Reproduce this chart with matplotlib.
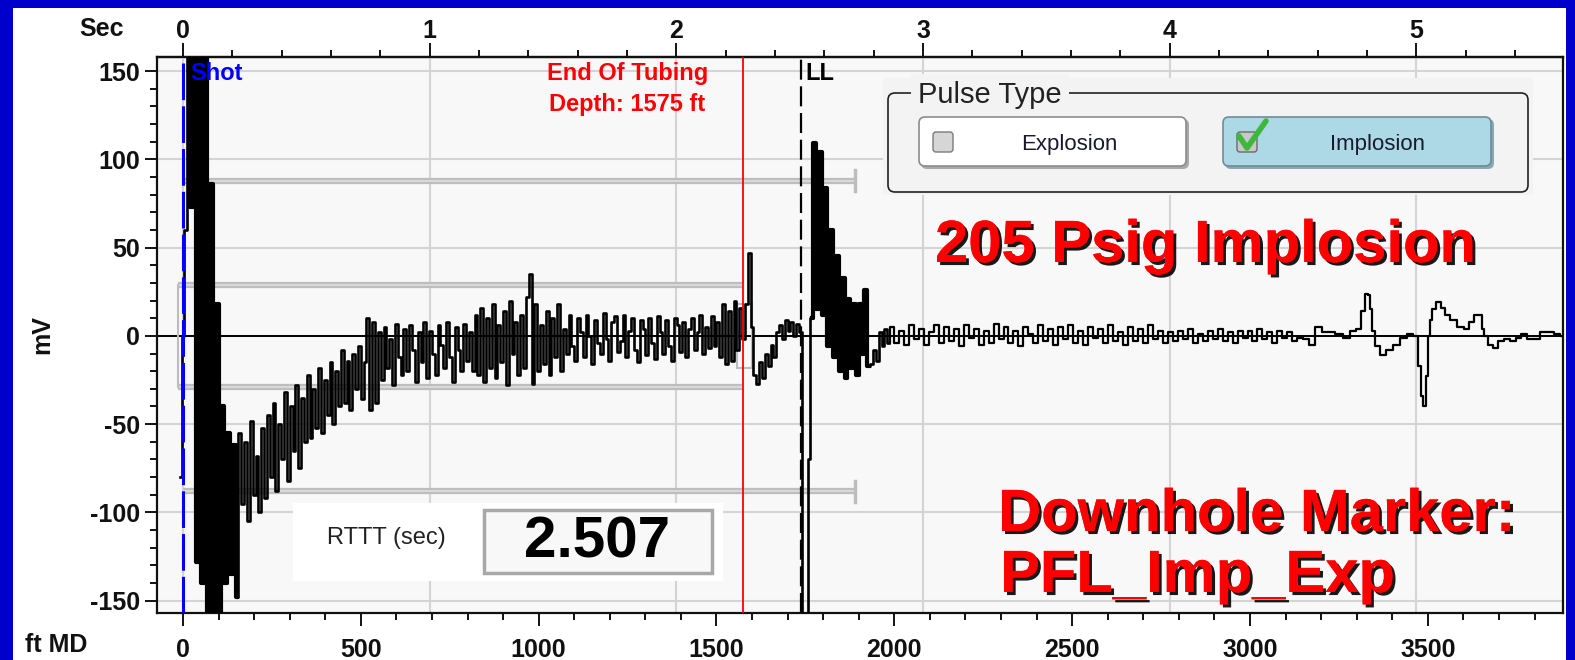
import matplotlib
matplotlib.use("Agg")
import matplotlib.pyplot as plt
import matplotlib.patches as mpatches
import matplotlib.patheffects as pe
import numpy as np
from matplotlib.ticker import MultipleLocator

plt.rcParams["font.family"] = ["Liberation Sans", "DejaVu Sans"]
plt.rcParams["axes.unicode_minus"] = False

# ---------------------------------------------------------
# data
# ---------------------------------------------------------
FT_PER_SEC = 693.5          # top axis: 1 s round trip = 693.5 ft MD
RTTT_SEC = 2.507
EOT_FT = 1575
LL_FT = RTTT_SEC * FT_PER_SEC

ft_ticks = [0, 500, 1000, 1500, 2000, 2500, 3000, 3500]
sec_ticks = [0, 1, 2, 3, 4, 5]
mv_ticks = [-150, -100, -50, 0, 50, 100, 150]

# acoustic trace, one sample every 8 ft from -8 ft to 1984 ft
MAIN_START_FT, MAIN_STEP_FT = -8, 8
main_mv = [
    -80, 0, 60, 200, 73, 200, -128, 200, -140, 200,
    -200, 86, -200, 18, -200, -40, -140, -55, -135, -62,
    -148, -55, -95, -60, -105, -48, -90, -68, -100, -52,
    -92, -45, -80, -38, -88, -50, -70, -32, -82, -40,
    -65, -28, -75, -35, -60, -22, -58, -30, -52, -18,
    -55, -25, -45, -15, -50, -20, -40, -8, -38, -14,
    -42, -10, -30, -6, -36, -15, 10, -42, 8, -38,
    2, -25, 5, -18, -2, -28, 7, -12, -22, 4,
    -20, 6, -8, -26, 2, -15, 8, -24, 3, -10,
    -22, 6, -5, -18, 8, -12, -26, 5, -8, -20,
    7, -14, 2, -20, 12, -22, 16, -26, 10, -18,
    18, -24, 6, -15, 14, -28, 20, -10, 8, -22,
    12, -18, 22, 35, -27, 18, -20, 6, -16, 14,
    -22, 10, -12, 18, -20, 4, -10, 12, -6, -14,
    10, 2, -12, 12, 0, -16, 9, -4, -10, 13,
    -2, -14, 8, 11, -9, -3, 12, -12, 3, 10,
    -8, -15, 9, 4, -11, 10, -4, -13, 11, 2,
    -10, 9, -6, -14, 10, 6, -9, 8, -12, 4,
    10, -8, 2, 12, -10, 5, -7, 11, -6, 8,
    -12, 18, -16, 14, -14, 20, -8, 16, -2, 18,
    47, 5, -22, -27, -15, -24, -10, -17, -5, -12,
    2, 6, -2, 9, 3, 8, 0, 7, 2, -200,
    -200, -70, 10, 109, 15, 104, 12, 84, -6, 60,
    -12, 45, -20, 33, -24, 21, -18, 18, -22, 18,
    -10, 26, -17, -16, -8, -14, 2, -6, 4, -4,
]

# quieter part, one sample every 14 ft from 1992 ft
TAIL_START_FT, TAIL_STEP_FT = 1992, 14
tail_mv = [
    5, -4, 3, -5, 6, -2, 4, -5, 2, 6,
    -4, 5, -3, 4, -6, 6, -1, 4, -5, 3,
    -4, 7, -2, 5, -4, 3, -6, 5, 1, -4,
    6, -3, 4, -5, 5, -2, 6, -4, 3, -5,
    5, -1, 4, -4, 6, -3, 2, -5, 5, -3,
    4, -4, 6, -2, 3, -4,
    2, -3, 3, -2, 4, -4, 1, -3, 3, -2,
    4, -3, 2, -4, 3, -1, 3, -3, 4, -2,
    2, -4, 3, -1, 2, -3,
]

# bottom section with the marker response
late_ft = [3141, 3158, 3174, 3193, 3210, 3226, 3250, 3273, 3291, 3305,
           3319, 3327, 3334, 3340, 3346, 3357, 3376, 3390, 3413, 3432,
           3450, 3468, 3477, 3483, 3490, 3497, 3503, 3509, 3516, 3530,
           3544, 3555, 3572, 3591, 3610, 3624, 3636, 3647, 3655, 3662,
           3675, 3689, 3704, 3722, 3740, 3756, 3770, 3788, 3807, 3826,
           3845, 3862, 3882]
late_mv = [-1, -2, -5, 5, 2, 2, 1, -1, 3, 4,
           14, 24, 23, 15, 3, -6, -11, -8, -5, -1,
           1, 0, -17, -34, -40, -23, 0, 9, 15, 19,
           16, 12, 9, 5, 4, 8, 12, 12, 4, 0,
           -5, -7, -3, -2, -3, -1, 1, -2, -2, 2,
           2, 1, 0]

# grey cursor bars of the acquisition screen
outer_cursor_mv = [88, -88]
OUTER_CURSOR_END_FT = 1890
inner_cursor_mv = [29, -29]
INNER_CURSOR_START_FT = -14

# ---------------------------------------------------------
# figure
# ---------------------------------------------------------
W, H = 1575, 660
fig = plt.figure(figsize=(W / 100, H / 100), dpi=100, facecolor="#0000CC")
fig.add_artist(mpatches.Rectangle((13 / W, 0), (1566 - 13) / W, (H - 8) / H,
                                  transform=fig.transFigure, facecolor="white",
                                  edgecolor="none", zorder=-1))

ax = fig.add_axes([157 / W, (H - 613) / H, (1563 - 157) / W, (613 - 57) / H])
ax.set_facecolor("#F8F8F8")
ax.set_xlim(-73, 3880)
ax.set_ylim(-157, 158)

for sp in ax.spines.values():
    sp.set_linewidth(1.6)
    sp.set_color("#111111")

# grid: horizontal on mV ticks, vertical on the seconds ticks
GRID = "#D4D4D4"
for v in mv_ticks:
    ax.axhline(v, color=GRID, lw=1.5, zorder=0.5)
for s in sec_ticks:
    ax.axvline(s * FT_PER_SEC, color=GRID, lw=1.5, zorder=0.5)
ax.axhline(0, color="black", lw=1.4, zorder=1)

# cursor bars (grey rail with a lighter core)
CUR, CUR_CORE = "#BDBDBD", "#D9D9D9"
for v in outer_cursor_mv:
    ax.plot([0, OUTER_CURSOR_END_FT], [v, v], color=CUR, lw=4.5, zorder=2,
            solid_capstyle="butt")
    ax.plot([0, OUTER_CURSOR_END_FT], [v, v], color=CUR_CORE, lw=1.5,
            zorder=2, solid_capstyle="butt")
    ax.plot([OUTER_CURSOR_END_FT, OUTER_CURSOR_END_FT], [v - 6, v + 6],
            color=CUR, lw=2.5, zorder=2)
for v in inner_cursor_mv:
    ax.plot([INNER_CURSOR_START_FT, EOT_FT], [v, v], color=CUR, lw=4.5,
            zorder=2, solid_capstyle="butt")
    ax.plot([INNER_CURSOR_START_FT, EOT_FT], [v, v], color=CUR_CORE, lw=1.5,
            zorder=2, solid_capstyle="butt")
ax.plot([INNER_CURSOR_START_FT, INNER_CURSOR_START_FT], inner_cursor_mv,
        color=CUR, lw=1.5, zorder=2)
ax.add_patch(mpatches.Rectangle((EOT_FT - 18, -18), 42, 36, fill=False,
                                edgecolor=CUR, lw=1.5, zorder=2))

# signal: dense upper part drawn heavier, quiet tail thinner
main_ft = MAIN_START_FT + MAIN_STEP_FT * np.arange(len(main_mv))
main_arr = np.array(main_mv)
tail_ft = TAIL_START_FT + TAIL_STEP_FT * np.arange(len(tail_mv))
ax.plot(main_ft, main_arr, color="black", lw=1.9, drawstyle="steps-mid",
        zorder=4)
# the saturated shot burst and the liquid-level echo read as solid black
shot_burst = (main_ft >= 16) & (main_ft <= 152)
ll_burst = (main_ft >= 1768) & (main_ft <= 1928)
for sel in (shot_burst, ll_burst):
    ax.plot(main_ft[sel], main_arr[sel], color="black", lw=3.0,
            drawstyle="steps-mid", zorder=4)
rest_ft = np.concatenate([main_ft[-1:], tail_ft, np.array(late_ft)])
rest_mv = np.concatenate([main_arr[-1:], tail_mv, late_mv])
ax.plot(rest_ft, rest_mv, color="black", lw=1.6, drawstyle="steps-mid",
        zorder=4)

# markers
ax.axvline(0, color="#0000FF", lw=2.2, linestyle=(0, (12, 2)), zorder=6)
ax.axvline(EOT_FT, color="#FF0000", lw=1.3, zorder=6)
ax.axvline(LL_FT, color="black", lw=1.6, linestyle=(0, (9, 3)), zorder=6)

ax.text(20, 148.7, "Shot", color="#0000FF", fontsize=17, weight="bold",
        ha="left", va="center", zorder=7)
ax.text(LL_FT + 10, 148.7, "LL", color="black", fontsize=17, weight="bold",
        ha="left", va="center", zorder=7)
ax.text(1249, 148.7, "End Of Tubing", color="#FF0000", fontsize=17,
        weight="bold", ha="center", va="center", zorder=7)
ax.text(1249, 131.1, f"Depth: {EOT_FT} ft", color="#FF0000", fontsize=17,
        weight="bold", ha="center", va="center", zorder=7)

# ticks
ax.set_yticks(mv_ticks)
ax.yaxis.set_minor_locator(MultipleLocator(10))
ax.set_xticks(ft_ticks)
ax.xaxis.set_minor_locator(MultipleLocator(100))
ax.tick_params(which="major", length=9, width=1.4, direction="out",
               labelsize=18, pad=3, colors="#111111")
ax.tick_params(axis="x", which="major", pad=9)
ax.tick_params(which="minor", length=5, width=1.4, direction="out",
               colors="#111111")
for lab in ax.get_xticklabels() + ax.get_yticklabels():
    lab.set_fontweight("bold")

sec = ax.secondary_xaxis("top", functions=(lambda f: f / FT_PER_SEC,
                                           lambda s: s * FT_PER_SEC))
sec.set_xticks(sec_ticks)
sec.xaxis.set_minor_locator(MultipleLocator(0.2))
sec.tick_params(which="major", length=10, width=1.4, direction="out",
                labelsize=18, pad=0, colors="#111111")
sec.tick_params(which="minor", length=5, width=1.4, direction="out",
                colors="#111111")
sec.spines["top"].set_linewidth(1.6)
for lab in sec.get_xticklabels():
    lab.set_fontweight("bold")

# ---------------------------------------------------------
# overlay in screen pixels (y down)
# ---------------------------------------------------------
ov = fig.add_axes([0, 0, 1, 1], zorder=5)
ov.set_xlim(0, W)
ov.set_ylim(H, 0)
ov.axis("off")
ov.patch.set_visible(False)


def rbox(x0, y0, x1, y1, fc, ec="none", lw=1.0, r=6, z=1):
    ov.add_patch(mpatches.FancyBboxPatch(
        (x0, y0), x1 - x0, y1 - y0,
        boxstyle=f"round,pad=0,rounding_size={r}",
        facecolor=fc, edgecolor=ec, lw=lw, zorder=z))


ov.text(102, 36, "Sec", fontsize=18, weight="bold", ha="center",
        va="baseline", color="#111111")
ov.text(56, 652, "ft MD", fontsize=18, weight="bold", ha="center",
        va="baseline", color="#111111")
ov.text(42, 335, "mV", fontsize=18, weight="bold", ha="center", va="center",
        rotation=90, color="#111111")

# Pulse Type group
ov.add_patch(mpatches.Rectangle((883, 78), 650, 117, facecolor="#F3F3F3",
                                edgecolor="none", zorder=1))
rbox(888, 93, 1528, 192, fc="none", ec="#222222", lw=1.2, r=7, z=2)
ov.text(918, 103, "Pulse Type", fontsize=21, color="#222222", ha="left",
        va="baseline", zorder=3,
        bbox=dict(boxstyle="square,pad=0.25", facecolor="#F3F3F3",
                  edgecolor="none"))
# buttons
rbox(921, 119, 1189, 169, fc="#A8A8A8", z=2)
rbox(919, 117, 1186, 166, fc="white", ec="#8C8C8C", lw=1.2, z=3)
rbox(1225, 119, 1494, 169, fc="#8AA8B4", z=2)
rbox(1223, 117, 1491, 166, fc="#ADD8E6", ec="#6E8C98", lw=1.2, z=3)
rbox(933, 132, 953, 152, fc="#D6D6D6", ec="#7A7A7A", lw=1.0, r=3, z=4)
rbox(1237, 132, 1257, 152, fc="#C8C8C8", ec="#6A6A6A", lw=1.0, r=3, z=4)
ov.plot([1239, 1247, 1266], [136, 148, 121], color="#3DB83D", lw=4,
        solid_capstyle="round", zorder=5)
ov.text(1069, 150, "Explosion", fontsize=16, color="#1A1A2E", ha="center",
        va="baseline", zorder=5)
ov.text(1378, 150, "Implosion", fontsize=16, color="#1A1A2E", ha="center",
        va="baseline", zorder=5)

# RTTT box
ov.add_patch(mpatches.Rectangle((293, 503), 430, 78, facecolor="white",
                                edgecolor="none", zorder=1))
ov.add_patch(mpatches.Rectangle((484, 510), 228, 63, facecolor="#F8F8F8",
                                edgecolor="#A8A8A8", lw=2.5, zorder=2))
ov.text(327, 544, "RTTT (sec)", fontsize=17, color="#222222", ha="left",
        va="baseline", zorder=3)
ov.text(597, 558, f"{RTTT_SEC:.3f}", fontsize=42, weight="bold",
        color="black", ha="center", va="baseline", zorder=3)

# big red captions with drop shadow
shadow = [pe.withSimplePatchShadow(offset=(2.2, -2.2), shadow_rgbFace="black",
                                   alpha=0.9), pe.Normal()]
for x, y, s in [(935, 262, "205 Psig Implosion"),
                (998, 531, "Downhole Marker:"),
                (1000, 592, "PFL_Imp_Exp")]:
    ov.text(x, y, s, fontsize=43, weight="bold", color="#FF0000",
            ha="left", va="baseline", zorder=6, path_effects=shadow)

fig.savefig("out.png", dpi=100, facecolor=fig.get_facecolor())
